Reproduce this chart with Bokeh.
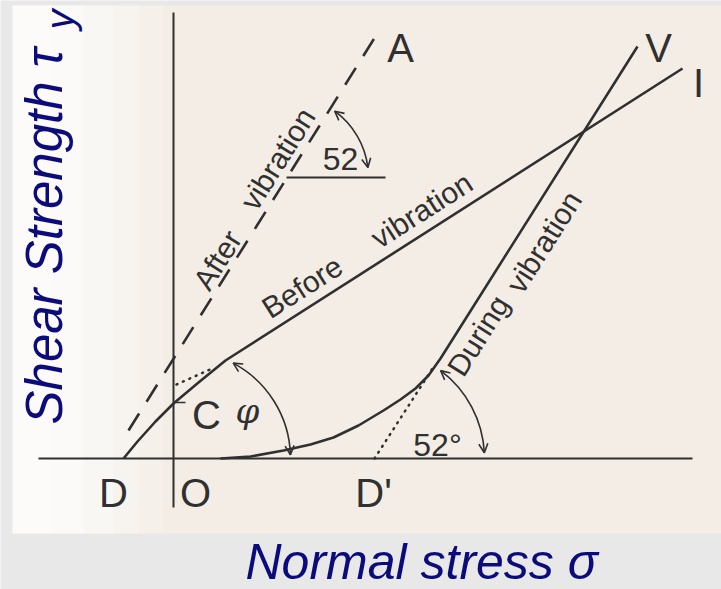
import numpy as np
from bokeh.plotting import figure
from bokeh.models import Range1d, Arrow, OpenHead
from bokeh.core.properties import value
from bokeh.embed import file_html
from bokeh.resources import INLINE

# ---- failure envelopes: normal stress sigma vs shear strength tau (diagram units) ----
before_sigma = [-5.0, -3.6, -1.8, 0.0, 2.5, 5.2, 50.9]
before_tau = [0.0, 1.7, 3.7, 5.5, 7.6, 9.8, 39.0]

during_sigma = [4.7, 7.7, 11.0, 13.7, 16.0, 18.5, 21.0, 22.7, 24.2, 25.5, 26.7, 46.4]
during_tau = [0.0, 0.2, 0.8, 1.4, 2.1, 3.3, 4.8, 5.9, 7.0, 8.3, 10.0, 41.2]

after_sigma = [-4.5, 20.7]
after_tau = [2.8, 43.0]

# dotted construction lines
dprime_ext_sigma = [20.1, 25.9]
dprime_ext_tau = [0.0, 9.0]
c_ext_sigma = [0.3, 4.1]
c_ext_tau = [7.4, 9.1]

# reference line for the 52 degree angle of the "after" envelope
ref_sigma = [11.3, 21.2]
ref_tau = [28.1, 28.1]

# axes of the diagram
sigma_axis = [-13.5, 51.9]
tau_axis = [-4.9, 44.6]

# angle arcs: centre sigma, centre tau, radius, start deg, end deg
arc_cx = [0.9, 20.1, 11.3]
arc_cy = [0.0, 0.0, 28.1]
arc_r = [10.8, 11.0, 8.2]
arc_a0 = [2.0, 3.0, 7.0]
arc_a1 = [62.0, 53.0, 54.0]

# point letters
pt_text = ["D", "O", "D'", "C", "V", "I", "A"]
pt_sigma = [-6.0, 2.2, 20.0, 3.3, 48.5, 52.5, 22.7]
pt_tau = [-3.4, -3.4, -3.4, 4.4, 41.1, 37.6, 41.1]

INK = "#303030"
NAVY = "#0b0b7b"
PX = 0.1  # diagram units per screen pixel

p = figure(width=721, height=589, output_backend="svg", toolbar_location=None,
           x_range=Range1d(-17.3, 54.8), y_range=Range1d(-13.1, 45.8),
           x_axis_location=None, y_axis_location=None, min_border=0,
           outline_line_color=None, background_fill_color="#e8e8e8",
           border_fill_color="#e8e8e8")
p.grid.visible = False

# paper, whitening towards the left edge
p.quad(left=-16.1, right=54.8, top=45.3, bottom=-7.5, fill_color="#f3ede5", line_color=None)
for right, alpha in ((-1.0, 0.2), (-3.5, 0.25), (-6.0, 0.3), (-9.0, 0.35), (-12.0, 0.3)):
    p.quad(left=-16.1, right=right, top=45.3, bottom=-7.5, fill_color="#ffffff",
           fill_alpha=alpha, line_color=None)

# axes
p.line(sigma_axis, [0, 0], line_color=INK, line_width=2)
p.line([0, 0], tau_axis, line_color=INK, line_width=2)

# envelopes
p.line(before_sigma, before_tau, line_color=INK, line_width=2.6, line_join="round")
p.line(during_sigma, during_tau, line_color=INK, line_width=2.6, line_join="round")
p.line(after_sigma, after_tau, line_color=INK, line_width=2.6, line_dash="20 14")
p.line(dprime_ext_sigma, dprime_ext_tau, line_color=INK, line_width=2.5,
       line_dash="1 6", line_cap="round")
p.line(c_ext_sigma, c_ext_tau, line_color=INK, line_width=2.5,
       line_dash="1 6", line_cap="round")
p.line(ref_sigma, ref_tau, line_color=INK, line_width=2)
p.line([0.0, 1.2], [5.6, 5.6], line_color=INK, line_width=1.5)

# angle arcs with arrow heads at both ends
for cx, cy, r, a0, a1 in zip(arc_cx, arc_cy, arc_r, arc_a0, arc_a1):
    t0, t1 = np.radians(a0), np.radians(a1)
    p.arc(x=[cx], y=[cy], radius=r, start_angle=t0, end_angle=t1,
          line_color=INK, line_width=1.6)
    d = 0.12
    for ta, tb in ((t1 - d, t1), (t0 + d, t0)):
        p.add_layout(Arrow(end=OpenHead(size=9, line_width=1.6, line_color=INK),
                           x_start=cx + r * np.cos(ta), y_start=cy + r * np.sin(ta),
                           x_end=cx + r * np.cos(tb), y_end=cy + r * np.sin(tb),
                           line_alpha=0))

# letters
p.text(x=pt_sigma, y=pt_tau, text=pt_text, text_font=value("Liberation Sans"),
       text_font_size="40px", text_color=INK, text_align="center", text_baseline="middle")
p.text(x=[16.7], y=[30.0], text=["52"], text_font=value("Liberation Sans"),
       text_font_size="32px", text_color=INK, text_align="center", text_baseline="middle")
p.text(x=[26.4], y=[1.4], text=["52°"], text_font=value("Liberation Sans"),
       text_font_size="32px", text_color=INK, text_align="center", text_baseline="middle")
p.text(x=[7.4], y=[4.8], text=["φ"], text_font=value("DejaVu Serif"), text_font_style="italic",
       text_font_size="34px", text_color=INK, text_align="center", text_baseline="middle")


def put_text(txt, x, y, ang, size, color, style="normal"):
    """Place text by its baseline-left point (x, y), rotated by ang."""
    lift = 0.35 * size * PX  # baseline -> middle of the em box
    xm = x - np.sin(ang) * lift
    ym = y + np.cos(ang) * lift
    p.text(x=[xm], y=[ym], text=[txt], angle=ang, text_font=value("Liberation Sans"),
           text_font_style=style, text_font_size=f"{size}px", text_color=color,
           text_align="left", text_baseline="middle")


def slope_angle(xs, ys):
    return float(np.arctan2(ys[-1] - ys[-2], xs[-1] - xs[-2]))


a_before = slope_angle(before_sigma, before_tau)
a_during = slope_angle(during_sigma, during_tau)
a_after = slope_angle(after_sigma, after_tau)

# curve captions written along the lines
put_text("Before", 9.7, 13.9, a_before, 30, INK)
put_text("vibration", 20.6, 20.9, a_before, 30, INK)
put_text("During", 29.0, 8.0, a_during, 30, INK)
put_text("vibration", 34.9, 16.3, a_during, 30, INK)
put_text("After", 3.6, 16.6, a_after, 30, INK)
put_text("vibration", 8.3, 24.6, a_after, 30, INK)

# axis titles
put_text("Normal stress σ", 7.2, -12.1, 0.0, 50, NAVY, "italic")
put_text("Shear Strength τ", -11.1, 3.4, np.pi / 2, 51, NAVY, "italic")
put_text("y", -10.0, 42.9, np.pi / 2, 40, NAVY, "italic")

open("out.html", "w").write(file_html(p, INLINE))
